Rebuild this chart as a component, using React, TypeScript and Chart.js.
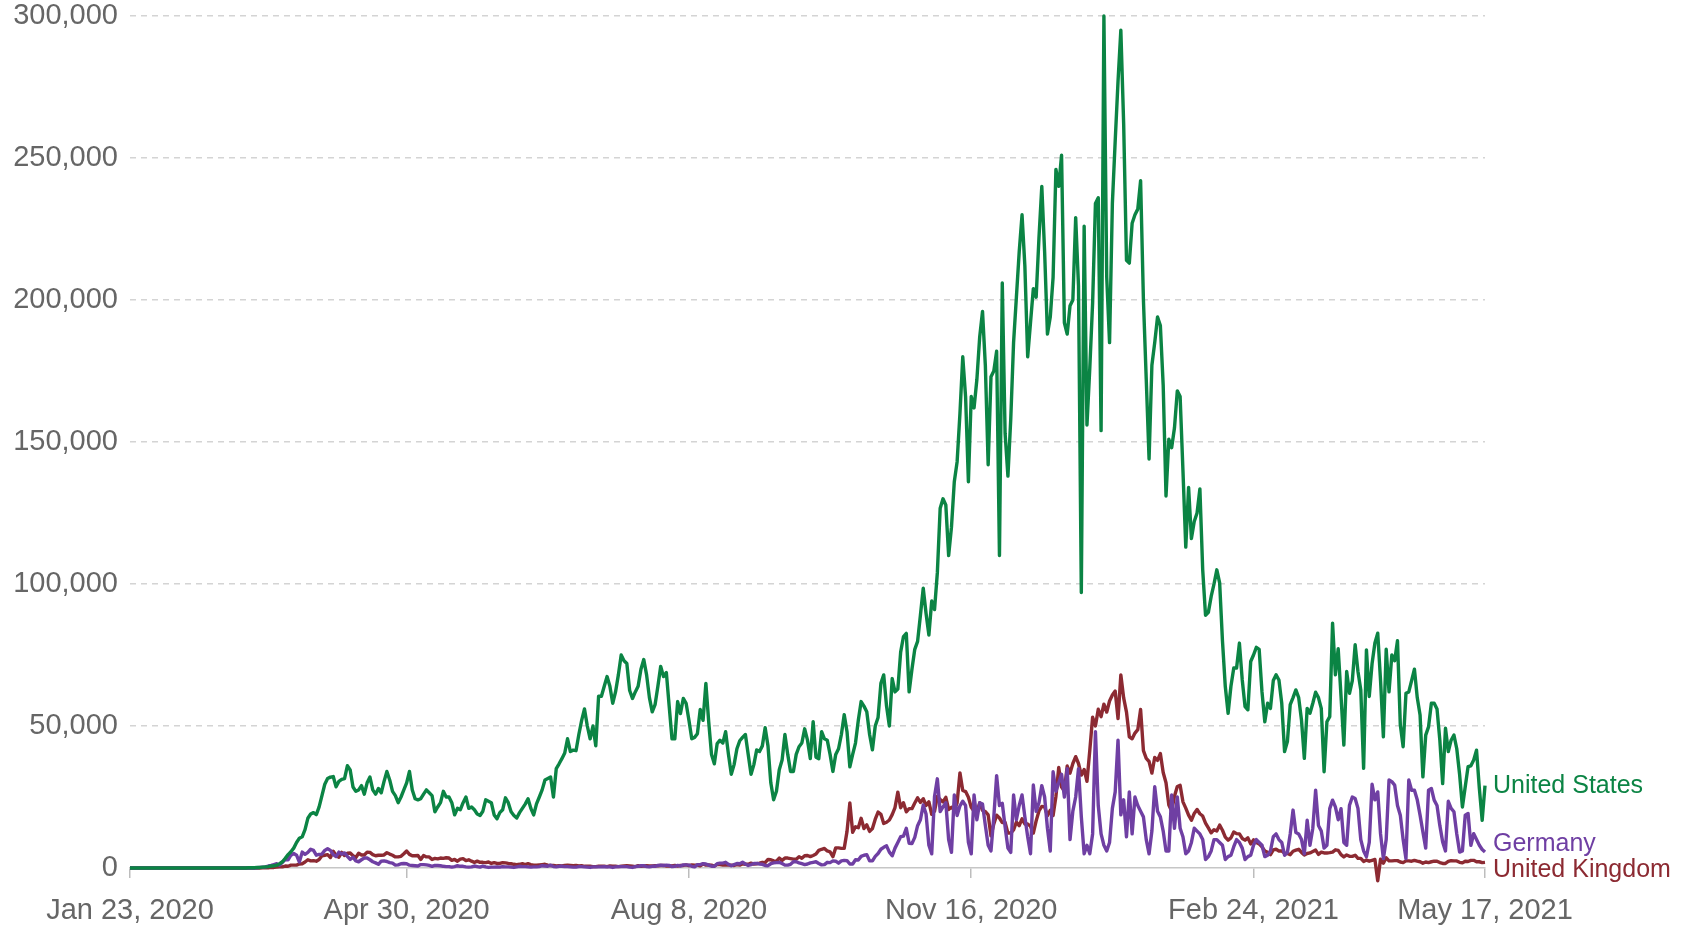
import React, { useEffect, useRef } from "react";
import { Chart, registerables } from "chart.js";

Chart.register(...registerables);

// x axis: days since Jan 23, 2020
const tickDays = [0, 98, 198, 298, 398, 480];
const tickLabels = ["Jan 23, 2020", "Apr 30, 2020", "Aug 8, 2020", "Nov 16, 2020", "Feb 24, 2021", "May 17, 2021"];
const yTickValues = [0, 50000, 100000, 150000, 200000, 250000, 300000];

const seriesNames = ["United States", "Germany", "United Kingdom"];
const seriesColors = ["#0b8444", "#6f3fa3", "#8c2a32"];

// daily new cases, thousands
const unitedStatesK = [
  0,0,0,0,0,0,0,0,0,0,
  0,0,0,0,0,0,0,0,0,0,
  0,0,0,0,0,0,0,0,0,0,
  0,0,0,0,0,0,0,0,0,0,
  0,0,0.1,0.1,0.1,0.2,0.2,0.3,0.4,0.5,
  0.7,0.8,1.0,1.5,2.2,3.4,4.7,5.7,7.0,9.0,
  10.5,11.0,13.5,17.5,19.0,19.5,18.8,21.5,25.5,29.5,
  31.5,32.0,32.2,28.6,30.5,31.2,31.5,36.0,34.5,28.5,
  27.0,27.5,29.0,26.0,30.0,32.0,27.5,26.0,28.0,26.5,
  30.5,34.0,31.0,27.0,25.5,23.0,25.0,27.5,30.0,34.0,
  27.5,24.4,24.0,24.4,26.0,27.5,26.5,25.5,19.8,21.5,
  23.0,27.0,25.0,25.0,23.0,18.7,21.0,20.5,23.0,25.0,
  21.0,21.5,20.5,19.0,18.5,20.0,24.0,23.5,23.0,18.7,
  17.3,19.5,20.5,24.7,23.0,19.8,18.5,17.6,19.5,21.0,
  22.5,24.4,21.0,18.7,22.6,25.0,27.5,31.0,31.5,32.0,
  25.0,35.0,36.7,38.5,40.5,45.5,41.0,41.5,41.3,47.0,
  52.0,56.0,50.0,45.5,50.0,43.0,60.5,60.5,64.0,67.4,
  64.0,58.0,62.0,68.0,75.0,73.0,72.0,62.5,59.7,62.0,
  64.0,70.0,73.4,68.0,60.0,55.0,57.5,64.0,71.0,67.4,
  68.8,57.0,45.5,45.5,58.6,54.4,59.7,58.0,52.0,45.5,
  46.0,47.3,55.8,52.0,65.0,51.5,40.0,36.7,43.8,45.0,
  44.0,48.0,40.0,33.0,36.4,42.0,44.8,46.0,47.0,40.0,
  33.0,36.4,41.6,41.0,43.0,49.4,43.0,30.0,24.0,27.0,
  34.6,38.0,47.0,40.0,34.0,34.0,40.0,42.7,44.0,49.0,
  45.0,38.5,51.5,39.0,38.5,48.0,45.5,45.0,40.0,34.0,
  40.0,42.0,47.0,54.0,48.0,35.6,40.0,44.0,52.0,58.6,
  57.0,55.0,47.0,41.6,50.0,53.0,65.0,68.0,57.0,50.0,
  66.7,62.0,63.0,76.0,81.5,82.6,62.0,70.0,77.0,79.8,
  89.0,98.5,89.6,82.0,94.0,91.0,104.0,126.7,130.0,127.8,
  110.0,120.0,136.0,143.0,160.0,180.0,166.0,136.0,166.0,162.0,
  172.0,187.0,196.0,177.0,142.0,173.0,175.0,182.0,110.0,206.0,
  153.0,138.0,158.0,185.0,201.0,217.0,230.0,212.0,180.0,192.0,
  204.0,201.0,222.0,240.0,217.0,188.0,194.0,208.0,246.0,240.0,
  251.0,192.0,188.0,198.0,200.0,229.0,205.0,97.0,226.0,156.0,
  176.0,199.0,234.0,236.0,154.0,300.0,208.0,185.0,234.0,256.0,
  277.0,295.0,262.0,214.0,213.0,227.0,230.0,232.0,242.0,200.0,
  172.0,144.0,177.0,185.0,194.0,191.0,170.0,131.0,151.0,148.0,
  155.0,168.0,166.0,140.0,113.0,134.0,116.0,122.0,125.0,133.5,
  105.0,89.0,90.0,95.6,100.0,105.0,100.4,80.0,63.9,54.5,
  64.0,70.4,70.4,79.2,66.3,56.8,55.7,72.7,75.0,77.7,
  77.0,62.0,51.5,58.0,56.2,66.0,68.0,66.2,58.0,41.0,
  44.5,57.5,60.0,62.7,60.0,52.0,38.6,56.2,54.5,58.0,
  61.9,60.0,56.2,33.9,51.5,53.3,86.2,68.0,77.2,60.4,
  43.3,69.2,61.5,66.0,78.6,69.2,62.7,35.1,76.8,60.4,
  72.0,79.2,82.7,66.0,46.2,77.0,62.0,75.0,73.0,80.0,
  50.4,42.7,61.5,62.0,66.0,70.0,60.0,53.9,32.1,46.8,
  49.7,58.0,58.0,56.0,45.0,29.7,49.2,41.0,45.0,46.8,
  42.0,33.0,21.5,28.6,35.7,36.0,38.0,41.5,28.0,16.8,
  29.0
];

const germanyK = [
  0,0,0,0,0,0,0,0,0,0,
  0,0,0,0,0,0,0,0,0,0,
  0,0,0,0,0,0,0,0,0,0,
  0,0,0,0,0,0,0,0,0,0,
  0,0,0,0,0,0.1,0.2,0.3,0.4,0.7,
  0.9,1.2,1.5,1.0,2.0,3.0,2.9,4.5,5.1,4.5,
  2.1,5.6,4.8,5.5,6.6,6.2,4.5,4.8,4.9,6.2,
  6.8,6.2,4.7,4.0,5.6,4.9,5.3,4.1,3.0,3.8,
  2.5,2.2,2.9,3.5,3.5,2.9,2.2,1.8,1.3,2.4,
  2.5,2.3,1.9,1.7,1.0,1.1,1.5,1.6,1.5,1.0,
  0.9,0.8,0.7,1.2,1.2,1.1,0.9,0.6,0.9,0.9,
  0.8,0.6,0.5,0.5,0.3,0.5,0.8,0.6,0.6,0.4,
  0.3,0.4,0.7,0.5,0.3,0.7,0.4,0.2,0.3,0.3,
  0.4,0.3,0.5,0.4,0.4,0.3,0.2,0.4,0.6,0.5,
  0.5,0.4,0.3,0.4,0.4,0.5,0.8,0.7,0.6,1.0,
  0.5,0.4,0.6,0.6,0.5,0.5,0.4,0.3,0.3,0.5,
  0.5,0.4,0.3,0.2,0.4,0.4,0.4,0.4,0.5,0.4,
  0.4,0.2,0.4,0.5,0.5,0.5,0.5,0.3,0.2,0.5,
  0.6,0.8,0.8,0.5,0.4,0.6,0.6,0.9,1.0,0.9,
  1.0,0.9,0.5,0.6,0.9,0.7,1.1,1.1,1.0,0.6,
  0.4,1.2,1.2,1.5,1.4,1.0,0.6,0.6,1.5,1.7,
  1.7,2.0,1.3,0.8,1.2,1.6,1.5,2.0,1.4,0.9,
  1.2,1.6,1.6,1.4,1.3,0.9,0.8,1.5,1.8,1.9,
  2.0,1.6,1.0,1.0,1.3,2.2,2.2,1.8,1.5,1.2,
  1.4,1.8,2.0,2.2,1.6,1.1,1.2,2.0,1.9,2.5,
  2.4,1.7,2.5,2.7,2.6,1.4,1.4,2.9,2.8,4.1,
  4.5,4.7,2.5,2.5,4.1,5.1,6.6,7.3,7.8,5.6,
  4.3,7.0,9.0,11.0,11.2,14.0,8.7,8.6,10.8,14.9,
  17.0,22.2,19.0,8.0,5.0,25.2,31.4,19.9,21.5,23.0,
  10.0,5.5,25.7,18.5,21.9,23.5,22.0,9.0,5.0,25.7,
  17.0,23.0,22.5,15.0,8.0,6.0,18.0,32.5,22.0,22.8,
  14.5,7.0,5.5,25.7,17.0,22.0,25.7,18.0,11.0,5.0,
  29.2,20.0,23.0,29.0,25.0,14.0,6.0,33.9,27.0,30.0,
  33.0,25.0,35.0,10.0,20.0,25.0,35.0,18.0,5.0,8.0,
  5.0,12.0,48.0,22.0,12.0,8.0,6.0,9.0,21.0,26.8,
  45.0,18.7,24.0,11.0,26.8,12.0,25.0,22.0,20.0,18.0,
  10.0,5.0,13.0,28.6,20.0,18.0,13.0,6.0,6.0,25.7,
  14.0,25.0,14.0,11.0,5.0,6.0,9.0,14.0,13.0,12.0,
  10.0,3.0,4.0,6.0,10.0,10.0,9.0,8.0,3.0,4.0,
  4.5,7.5,10.0,9.0,7.0,3.0,4.0,4.5,8.0,10.0,
  9.0,8.0,4.0,4.5,6.0,11.0,12.0,10.0,9.0,4.5,
  5.5,12.0,20.4,12.5,12.0,10.0,5.0,16.8,8.0,14.0,
  27.4,15.0,13.0,7.0,8.0,20.9,23.9,21.5,17.0,20.9,
  9.0,8.0,22.1,25.0,24.5,21.0,10.0,6.0,4.0,9.0,
  29.5,24.0,26.8,12.0,3.3,10.0,31.0,30.4,29.2,22.0,
  18.6,10.0,3.3,31.0,27.4,27.4,24.0,18.6,12.7,7.0,
  27.4,28.0,23.9,22.0,15.0,9.2,6.0,23.5,21.0,19.8,
  12.0,5.6,6.0,18.6,19.2,8.0,12.1,10.0,8.0,6.5,
  5.6
];

const unitedKingdomK = [
  0,0,0,0,0,0,0,0,0,0,
  0,0,0,0,0,0,0,0,0,0,
  0,0,0,0,0,0,0,0,0,0,
  0,0,0,0,0,0,0,0,0,0,
  0,0,0,0,0,0,0,0.1,0.1,0.1,
  0.2,0.2,0.3,0.4,0.4,0.7,0.6,1.0,1.0,1.0,
  1.4,1.5,2.1,2.9,2.5,2.6,2.4,3.0,4.3,4.5,
  4.7,3.7,5.9,4.4,3.8,5.5,4.4,5.2,5.3,4.3,
  3.7,5.2,4.6,4.6,5.6,5.5,4.7,4.3,4.5,4.5,
  4.6,5.4,4.9,4.5,3.9,3.9,4.1,5.0,6.0,4.8,
  4.3,4.3,4.4,3.0,4.4,3.9,3.9,3.0,3.4,3.2,
  3.5,3.4,3.6,3.5,2.7,3.0,2.4,3.1,3.3,2.6,
  2.9,2.4,2.0,2.4,2.0,2.0,1.9,2.1,1.6,1.9,
  1.6,1.6,1.9,1.8,1.6,1.5,1.3,1.2,1.3,1.5,
  1.2,1.5,1.2,1.0,1.0,1.1,1.2,1.3,1.0,0.9,
  0.9,0.7,0.8,0.7,0.9,1.0,0.9,0.8,0.9,0.7,
  0.8,0.6,0.6,0.6,0.5,0.5,0.6,0.6,0.6,0.5,
  0.7,0.6,0.6,0.5,0.6,0.7,0.8,0.7,0.6,0.5,
  0.8,0.6,0.7,0.8,0.7,0.7,0.8,0.8,0.9,0.9,
  0.7,0.8,0.7,0.9,0.7,0.9,0.9,1.1,0.8,1.1,
  1.0,1.0,0.8,1.4,1.0,1.1,1.0,0.7,1.2,1.2,
  1.0,1.0,1.0,1.0,0.9,1.2,1.0,1.5,1.3,1.3,
  1.7,1.4,1.5,1.7,2.0,1.9,3.0,2.9,2.5,2.4,
  3.5,2.7,3.5,3.5,3.3,3.1,3.1,4.0,3.4,4.3,
  4.4,4.0,4.4,4.9,6.2,6.6,6.9,6.0,5.7,4.0,
  7.1,7.1,6.9,6.9,12.9,22.9,12.6,14.5,14.2,17.5,
  13.9,15.2,12.9,13.9,17.2,19.7,18.9,15.7,16.1,16.9,
  18.8,21.3,26.7,21.2,23.0,19.8,20.9,20.9,22.9,24.7,
  23.1,24.4,22.0,23.3,18.9,20.0,25.2,24.1,23.3,24.9,
  20.6,21.4,20.4,22.9,33.5,27.3,26.9,24.9,21.4,20.0,
  19.6,22.9,20.3,19.9,18.7,11.3,15.5,18.6,17.6,16.0,
  16.0,12.3,12.3,13.4,16.2,14.9,17.3,15.5,15.5,14.7,
  12.3,16.6,20.1,21.7,21.5,18.4,20.3,18.5,25.2,35.4,
  28.5,27.1,35.9,33.4,36.8,39.2,36.8,32.7,34.7,30.5,
  41.4,53.1,50.0,55.9,53.3,57.7,54.9,58.8,60.9,62.3,
  52.6,68.0,59.9,54.9,46.2,45.5,47.5,48.7,55.8,41.3,
  38.6,37.5,33.4,38.9,37.9,40.3,33.6,30.0,22.2,20.1,
  25.3,28.7,29.1,23.3,21.1,18.6,16.8,19.2,20.6,19.1,
  18.3,15.8,14.1,12.4,13.5,13.0,15.1,13.3,10.9,9.8,
  10.6,12.7,12.1,12.0,10.4,9.8,10.6,8.5,9.9,9.0,
  8.5,7.4,6.0,5.5,4.7,6.4,6.6,6.0,6.0,5.2,
  5.1,4.7,5.9,6.3,6.6,5.5,4.6,5.1,5.3,5.8,
  6.3,4.8,5.6,5.3,5.3,5.4,5.6,6.4,6.2,4.7,
  3.9,4.6,4.1,4.1,4.5,3.4,3.4,2.3,2.8,2.4,
  2.7,3.0,-4.5,3.1,1.7,3.6,2.5,2.5,2.6,2.6,
  2.1,1.9,2.5,2.5,2.4,2.7,2.4,2.2,1.7,2.1,
  1.9,2.2,2.4,2.4,1.9,1.6,1.6,2.3,2.6,2.5,
  2.5,2.0,1.8,2.4,2.3,2.7,2.7,2.2,2.2,1.9,
  2.0
];

const FONT = "'Liberation Sans', Arial, Helvetica, sans-serif";

const endLabelsPlugin = {
  id: "endLabels",
  afterDatasetsDraw(chart: any) {
    const ctx = chart.ctx;
    const items = chart.data.datasets.map((ds: any, i: number) => {
      const meta = chart.getDatasetMeta(i);
      const pt = meta.data[meta.data.length - 1];
      return { x: pt.x, y: pt.y, text: ds.label, color: ds.borderColor };
    });
    const sorted = [...items].sort((a: any, b: any) => a.y - b.y);
    const pos = sorted.map((s: any) => s.y);
    const gap = 26;
    for (let iter = 0; iter < 60; iter++) {
      let moved = false;
      for (let k = 1; k < pos.length; k++) {
        const d = pos[k] - pos[k - 1];
        if (d < gap - 0.01) {
          const sh = (gap - d) / 2;
          pos[k - 1] -= sh;
          pos[k] += sh;
          moved = true;
        }
      }
      if (!moved) break;
    }
    ctx.save();
    ctx.font = `25px ${FONT}`;
    ctx.textAlign = "left";
    ctx.textBaseline = "middle";
    sorted.forEach((s: any, k: number) => {
      ctx.fillStyle = s.color;
      ctx.fillText(s.text, s.x + 8, pos[k]);
    });
    ctx.restore();
  },
};

export default function App() {
  const canvasRef = useRef<HTMLCanvasElement | null>(null);

  useEffect(() => {
    if (!canvasRef.current) return;
    const series = [unitedStatesK, germanyK, unitedKingdomK];
    const chart = new Chart(canvasRef.current, {
      type: "line",
      data: {
        datasets: series.map((arr, i) => ({
          label: seriesNames[i],
          data: arr.map((v, d) => ({ x: d, y: v * 1000 })),
          borderColor: seriesColors[i],
          backgroundColor: seriesColors[i],
          borderWidth: 3.4,
          pointRadius: 0,
          pointHoverRadius: 0,
          tension: 0,
          borderJoinStyle: "round" as const,
          fill: false,
          clip: false as any,
        })),
      },
      options: {
        animation: false,
        responsive: false,
        devicePixelRatio: 1,
        events: [],
        layout: { padding: { top: 16, right: 200, left: 0, bottom: 0 } },
        plugins: {
          legend: { display: false },
          tooltip: { enabled: false },
          title: { display: false },
        },
        scales: {
          x: {
            type: "linear",
            min: 0,
            max: 480,
            afterBuildTicks: (axis: any) => {
              axis.ticks = tickDays.map((v) => ({ value: v }));
            },
            afterFit: (s: any) => {
              s.height = 58;
            },
            ticks: {
              autoSkip: false,
              maxRotation: 0,
              minRotation: 0,
              padding: 18,
              color: "#666666",
              font: { family: FONT, size: 29, lineHeight: 1 },
              callback: (v: any) => {
                const idx = tickDays.indexOf(Number(v));
                return idx >= 0 ? tickLabels[idx] : "";
              },
            },
            grid: {
              drawOnChartArea: false,
              drawTicks: true,
              tickLength: 10,
              color: "#bdbdbd",
              lineWidth: 1.5,
            },
            border: { display: true, color: "#c6c6c6", width: 1.5 },
          },
          y: {
            min: 0,
            max: 300000,
            afterBuildTicks: (axis: any) => {
              axis.ticks = yTickValues.map((v) => ({ value: v }));
            },
            afterFit: (s: any) => {
              s.width = 130;
              s.paddingTop = 0;
              s.paddingBottom = 0;
            },
            ticks: {
              padding: 12,
              color: "#666666",
              font: { family: FONT, size: 29, lineHeight: 1 },
              callback: (v: any) => Number(v).toLocaleString("en-US"),
            },
            grid: {
              drawTicks: false,
              lineWidth: 1.5,
              color: (c: any) => (c.tick && c.tick.value === 0 ? "rgba(0,0,0,0)" : "#d4d4d4"),
            },
            border: { display: false, dash: [6, 5] },
          },
        },
      },
      plugins: [endLabelsPlugin],
    });
    return () => chart.destroy();
  }, []);

  return (
    <div style={{ position: "fixed", left: 0, top: 0, width: 1685, height: 926, background: "#ffffff" }}>
      <canvas ref={canvasRef} width={1685} height={926} style={{ display: "block", width: 1685, height: 926 }} />
    </div>
  );
}
